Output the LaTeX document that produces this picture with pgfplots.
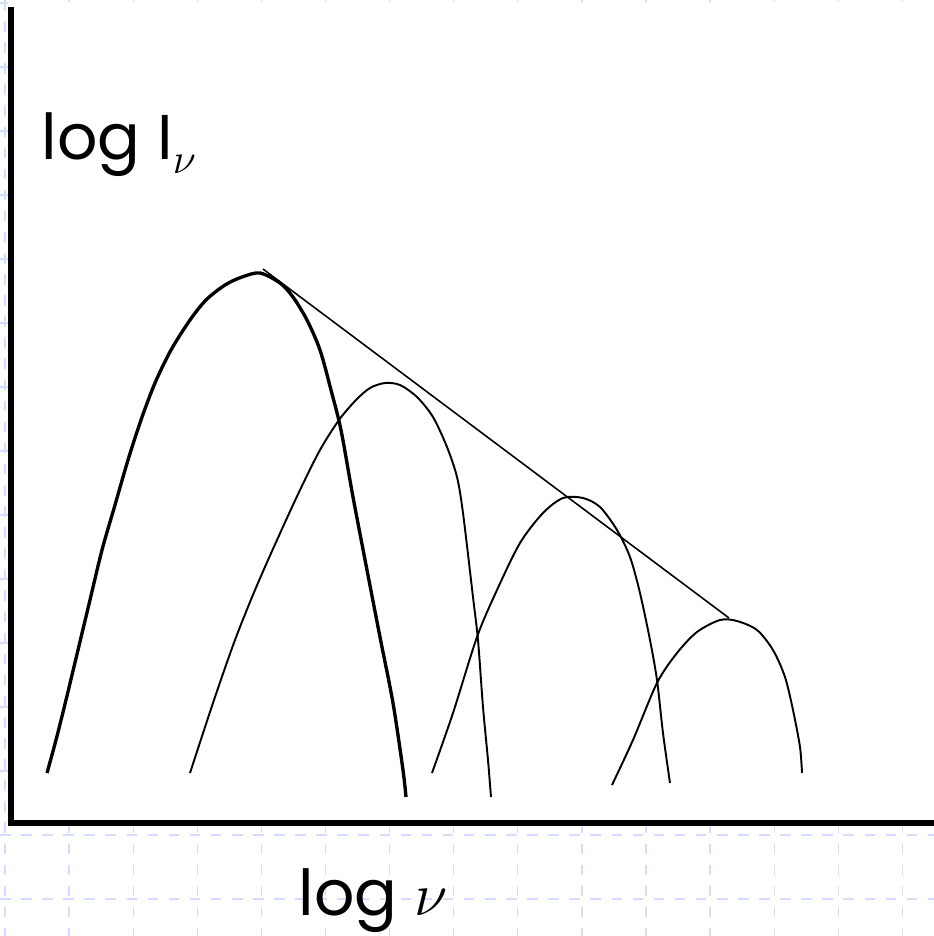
\documentclass[border=0pt]{standalone}
\usepackage{pgfplots}
\pgfplotsset{compat=1.18}
\usepackage{fontspec}
\setmainfont{Poppins}
\definecolor{gridblue}{RGB}{212,220,255}

% Blackbody-like spectra of several components and their envelope
\pgfplotstableread{
x y
47 773
56 740
66 700
78 650
90 600
102 550
115 505
128 460
141 420
155 383
171 350
190 320
206 300
225 285
242 277
260 273
280 283
293 297
307 320
320 350
331 390
341 430
353 497
367 570
380 637
393 703
403 770
406 797
}\compA
\pgfplotstableread{
x y
190 773
214 700
235 640
255 590
277 540
300 490
320 450
339 420
356 400
370 388
385 383
400 385
417 397
433 417
447 447
457 477
463 513
473 597
478 640
483 707
488 760
491 797
}\compB
\pgfplotstableread{
x y
432 773
453 713
477 637
497 590
520 543
543 513
563 498
583 498
600 507
617 530
630 557
640 593
650 640
657 680
663 733
670 783
}\compC
\pgfplotstableread{
x y
612 785
633 740
657 683
677 653
697 632
720 620
737 621
757 630
773 650
785 677
793 710
800 747
802 773
}\compD

\begin{document}
\begin{tikzpicture}
\begin{axis}[
  scale only axis,
  width=9.34cm, height=9.36cm,
  xmin=0, xmax=934, ymin=0, ymax=936,
  y dir=reverse,
  axis line style={draw=none},
  tick style={draw=none},
  xticklabels={}, yticklabels={},
  xtick={5,69.1,133.2,197.3,261.4,325.5,389.6,453.7,517.8,581.9,646,710.1,774.2,838.3,902.4},
  ytick={3,67,131,195,259,323,387,451,515,579,643,707,771,835,899},
  grid=major,
  major grid style={gridblue, dashed, line width=0.35pt},
  clip=false,
]
\coordinate (SW) at (axis cs:0,936);
\coordinate (NE) at (axis cs:934,0);
\fill[white] (axis cs:8,2) rectangle (axis cs:934,826);

\addplot[black, line width=0.95pt, smooth] table[x=x,y=y] {\compA};
\addplot[black, line width=0.55pt, smooth] table[x=x,y=y] {\compB};
\addplot[black, line width=0.55pt, smooth] table[x=x,y=y] {\compC};
\addplot[black, line width=0.55pt, smooth] table[x=x,y=y] {\compD};
% envelope line tangent to the peaks
\addplot[black, line width=0.45pt] coordinates {(263,269) (729,618)};

% axes
\draw[black, line width=1.5pt] (axis cs:11,7) -- (axis cs:11,823);
\draw[black, line width=1.5pt] (axis cs:8,823) -- (axis cs:934,823);

\node[anchor=base west, inner sep=0pt] at (axis cs:41,159)
  {\fontsize{18}{22}\selectfont log I\raisebox{-4pt}{\fontsize{12}{14}\selectfont$\nu$}};
\node[anchor=base west, inner sep=0pt] at (axis cs:298,915)
  {\fontsize{18}{22}\selectfont log $\nu$};
\end{axis}
\pgfresetboundingbox
\useasboundingbox (SW) rectangle (NE);
\end{tikzpicture}
\end{document}
